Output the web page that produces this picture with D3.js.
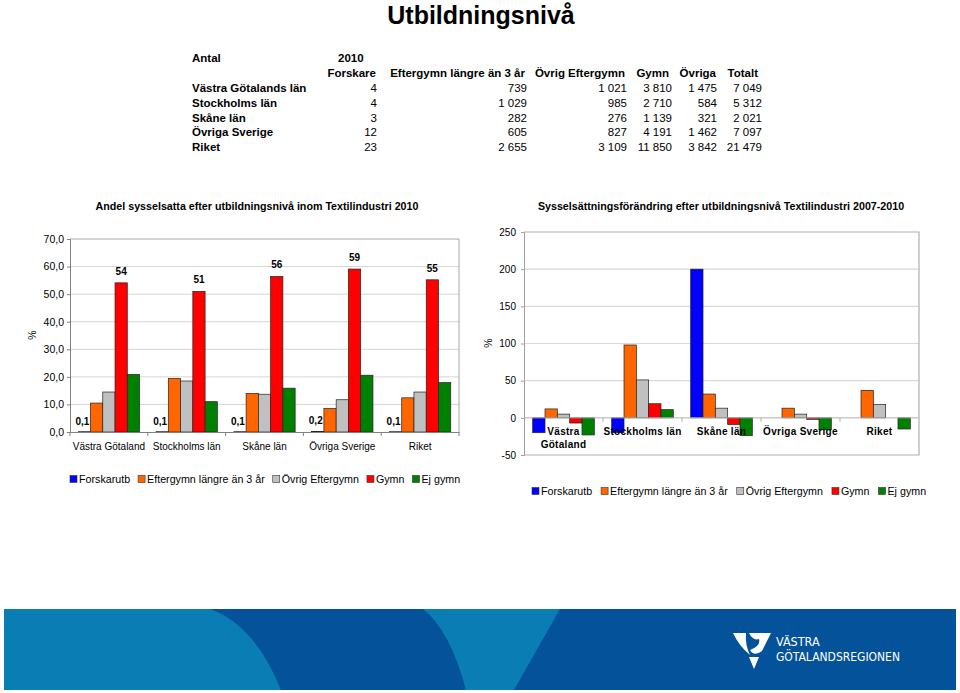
<!DOCTYPE html>
<html><head><meta charset="utf-8">
<script src="https://cdn.jsdelivr.net/npm/d3@7"></script>
<style>body{margin:0;background:#fff}svg{display:block;font-family:"Liberation Sans",Arial,Helvetica,sans-serif}</style>
</head><body><svg id="c" width="960" height="693"></svg>
<script>
// ---------- data ----------
const pageTitle = "Utbildningsnivå";
const tableCorner = "Antal";
const tableYear = "2010";
const tableColumns = ["Forskare","Eftergymn längre än 3 år","Övrig Eftergymn","Gymn","Övriga","Totalt"];
const tableRegions = ["Västra Götalands län","Stockholms län","Skåne län","Övriga Sverige","Riket"];
const tabForskare = [4,4,3,12,23];
const tabEftergymnLang = [739,1029,282,605,2655];
const tabOvrigEftergymn = [1021,985,276,827,3109];
const tabGymn = [3810,2710,1139,4191,11850];
const tabOvriga = [1475,584,321,1462,3842];
const tabTotalt = [7049,5312,2021,7097,21479];

const seriesNames = ["Forskarutb","Eftergymn längre än 3 år","Övrig Eftergymn","Gymn","Ej gymn"];
const seriesColors = ["#0000ff","#ff6600","#c0c0c0","#ff0000","#008000"];

const shareTitle = "Andel sysselsatta efter utbildningsnivå inom Textilindustri 2010";
const shareCategories = ["Västra Götaland","Stockholms län","Skåne län","Övriga Sverige","Riket"];
const shareForskarutb = [0.1,0.1,0.1,0.2,0.1];
const shareEftergymn = [10.5,19.4,14.0,8.5,12.4];
const shareOvrigEftergymn = [14.5,18.5,13.7,11.7,14.5];
const shareGymn = [54.1,51.0,56.4,59.1,55.2];
const shareEjGymn = [20.9,11.0,15.9,20.6,17.9];
const shareTicks = [0,10,20,30,40,50,60,70];

const changeTitle = "Sysselsättningsförändring efter utbildningsnivå Textilindustri 2007-2010";
const changeCategories = ["Västra Götaland","Stockholms län","Skåne län","Övriga Sverige","Riket"];
const changeCategoryLines = [["Västra","Götaland"],["Stockholms län"],["Skåne län"],["Övriga Sverige"],["Riket"]];
const changeForskarutb = [-20,-20,200,0,0];
const changeEftergymn = [12,98,32,13,37];
const changeOvrigEftergymn = [5,51,13,5,18];
const changeGymn = [-7,19,-9,-2,0];
const changeEjGymn = [-23,11,-24,-16,-15];
const changeTicks = [-50,0,50,100,150,200,250];

const logoLine1 = "VÄSTRA";
const logoLine2 = "GÖTALANDSREGIONEN";

// ---------- helpers ----------
const svg = d3.select("#c");
const loc = d3.formatLocale({decimal:",", thousands:"\u00a0", grouping:[3], currency:["",""]});
const fmtInt = loc.format(",d");
const fmt1 = loc.format(".1f");
const fmt0 = loc.format(".0f");

// ---------- title ----------
svg.append("text").attr("x",481).attr("y",24).attr("text-anchor","middle")
  .attr("font-size",25).attr("font-weight","bold").text(pageTitle);

// ---------- table ----------
const tableCols = [tabForskare,tabEftergymnLang,tabOvrigEftergymn,tabGymn,tabOvriga,tabTotalt];
const numRight = [377,527,627,672,717,762];
const headRight = [376,525,625,669,716,758];
const tFs = 11.5;
const tg = svg.append("g").attr("font-size",tFs);
tg.append("text").attr("x",192).attr("y",62).attr("font-weight","bold").text(tableCorner);
tg.append("text").attr("x",338).attr("y",62).attr("font-weight","bold").text(tableYear);
tableColumns.forEach((c,i)=>{
  tg.append("text").attr("x",headRight[i]).attr("y",77).attr("text-anchor","end").attr("font-weight","bold").text(c);
});
const rowY = d3.scalePoint().domain(tableRegions).range([92,151]);
tableRegions.forEach((r,ri)=>{
  tg.append("text").attr("x",192).attr("y",rowY(r)).attr("font-weight","bold").text(r);
  tableCols.forEach((col,ci)=>{
    tg.append("text").attr("x",numRight[ci]).attr("y",rowY(r)).attr("text-anchor","end").text(fmtInt(col[ri]));
  });
});

// ---------- generic chart pieces ----------
function legend(x0, yc, gap){
  const g = svg.append("g").attr("font-size",10.7);
  let x = x0;
  seriesNames.forEach((s,i)=>{
    g.append("rect").attr("x",x).attr("y",yc-3.5).attr("width",7).attr("height",7)
      .attr("fill",seriesColors[i]).attr("stroke","#333").attr("stroke-width",0.6);
    const t = g.append("text").attr("x",x+9).attr("y",yc+3.8).text(s);
    x += 9 + t.node().getComputedTextLength() + gap;
  });
}

// ---------- left chart ----------
(function(){
  const L=70,R=459;
  const x0 = d3.scaleBand().domain(shareCategories).range([L,R]);
  const bw = x0.bandwidth();
  const x1 = d3.scaleBand().domain(seriesNames).range([bw*0.106, bw*(1-0.106)]);
  const y = d3.scaleLinear().domain([0,70]).range([432,239]);
  const series = [shareForskarutb,shareEftergymn,shareOvrigEftergymn,shareGymn,shareEjGymn];

  svg.append("text").attr("x",257).attr("y",210).attr("text-anchor","middle")
    .attr("font-size",10.7).attr("font-weight","bold").text(shareTitle);

  const grid = svg.append("g");
  grid.selectAll("line").data(shareTicks.slice(1,-1)).join("line")
    .attr("x1",L).attr("x2",R).attr("y1",d=>y(d)).attr("y2",d=>y(d))
    .attr("stroke","#d4d4d4").attr("stroke-width",1);
  svg.append("path").attr("d",`M${L},${y(70)}H${R}V${y(0)}`).attr("fill","none").attr("stroke","#a6a6a6");

  const ax = svg.append("g").attr("transform",`translate(${L},0)`)
    .call(d3.axisLeft(y).tickValues(shareTicks).tickFormat(d=>fmt1(d)).tickSize(3).tickPadding(3));
  ax.select(".domain").attr("stroke","#808080");
  ax.selectAll(".tick line").attr("stroke","#808080");
  ax.selectAll("text").attr("font-size",10.5).attr("font-family",null).attr("fill","#000");

  const g = svg.append("g");
  series.forEach((vals,si)=>{
    g.selectAll(null).data(shareCategories).join("rect")
      .attr("x",c=>x0(c)+x1(seriesNames[si]))
      .attr("width",x1.bandwidth())
      .attr("y",(c,i)=>y(vals[i]))
      .attr("height",(c,i)=>y(0)-y(vals[i]))
      .attr("fill",seriesColors[si]).attr("stroke","#222").attr("stroke-width",0.7);
  });
  const bx = svg.append("g").attr("transform",`translate(0,${y(0)})`)
    .call(d3.axisBottom(x0).tickSize(0));
  bx.select(".domain").attr("stroke","#808080");
  bx.selectAll("text").attr("y",18).attr("dy",null).attr("font-size",10).attr("font-family",null).attr("fill","#000");
  svg.append("g").selectAll("line").data(shareCategories.concat([null])).join("line")
    .attr("x1",(c,i)=>c===null?R:x0(c)).attr("x2",(c,i)=>c===null?R:x0(c))
    .attr("y1",y(0)).attr("y2",y(0)+4).attr("stroke","#808080");

  const lg = svg.append("g").attr("font-size",10).attr("font-weight","bold").attr("text-anchor","middle");
  shareCategories.forEach((c,i)=>{
    lg.append("text").attr("x",x0(c)+x1(seriesNames[3])+x1.bandwidth()/2).attr("y",y(shareGymn[i])-8).text(fmt0(shareGymn[i]));
    lg.append("text").attr("x",x0(c)+x1(seriesNames[0])+x1.bandwidth()/2-2).attr("y",y(shareForskarutb[i])-7).text(fmt1(shareForskarutb[i]));
  });

  svg.append("text").attr("transform","translate(36,335) rotate(-90)").attr("text-anchor","middle")
    .attr("font-size",10.5).text("%");
  legend(70,479,8);
})();

// ---------- right chart ----------
(function(){
  const L=524,R=919;
  const x0 = d3.scaleBand().domain(changeCategories).range([L,R]);
  const bw = x0.bandwidth();
  const x1 = d3.scaleBand().domain(seriesNames).range([bw*0.11, bw*(1-0.11)]);
  const y = d3.scaleLinear().domain([-50,250]).range([455,232]);
  const series = [changeForskarutb,changeEftergymn,changeOvrigEftergymn,changeGymn,changeEjGymn];

  svg.append("text").attr("x",721).attr("y",210).attr("text-anchor","middle")
    .attr("font-size",10.7).attr("font-weight","bold").text(changeTitle);

  svg.append("g").selectAll("line").data(changeTicks.filter(t=>t>0&&t<250)).join("line")
    .attr("x1",L).attr("x2",R).attr("y1",d=>y(d)).attr("y2",d=>y(d))
    .attr("stroke","#d9d9d9").attr("stroke-width",1.2);
  svg.append("path").attr("d",`M${L},${y(250)}H${R}V${y(-50)}H${L}`).attr("fill","none").attr("stroke","#b0b0b0").attr("stroke-width",1.2);

  const ax = svg.append("g").attr("transform",`translate(${L},0)`)
    .call(d3.axisLeft(y).tickValues(changeTicks).tickFormat(d=>fmt0(d).replace("−","-")).tickSize(3).tickPadding(5));
  ax.select(".domain").attr("stroke","#a0a0a0");
  ax.selectAll(".tick line").attr("stroke","#a0a0a0");
  ax.selectAll("text").attr("font-size",10).attr("font-family",null).attr("fill","#000");

  const g = svg.append("g");
  series.forEach((vals,si)=>{
    g.selectAll(null).data(changeCategories.filter((c,i)=>vals[i]!==0)).join("rect")
      .attr("x",c=>x0(c)+x1(seriesNames[si]))
      .attr("width",x1.bandwidth())
      .attr("y",c=>Math.min(y(vals[changeCategories.indexOf(c)]),y(0)))
      .attr("height",c=>Math.abs(y(vals[changeCategories.indexOf(c)])-y(0)))
      .attr("fill",seriesColors[si]).attr("stroke","#222").attr("stroke-width",0.7);
  });
  svg.append("line").attr("x1",L).attr("x2",R).attr("y1",y(0)).attr("y2",y(0)).attr("stroke","#b0b0b0");
  svg.append("g").selectAll("line").data(changeCategories.slice(1)).join("line")
    .attr("x1",c=>x0(c)).attr("x2",c=>x0(c)).attr("y1",y(0)).attr("y2",y(0)+4).attr("stroke","#b0b0b0");
  const cg = svg.append("g").attr("font-size",10).attr("font-weight","bold").attr("text-anchor","middle");
  changeCategories.forEach((c,i)=>{
    changeCategoryLines[i].forEach((ln,li)=>{
      cg.append("text").attr("x",x0(c)+bw/2).attr("y",y(0)+17.5+li*12.8).attr("letter-spacing",0.3).text(ln);
    });
  });

  svg.append("text").attr("transform","translate(492,343) rotate(-90)").attr("text-anchor","middle")
    .attr("font-size",10.5).text("%");
  legend(532,491,9);
})();

// ---------- footer banner ----------
(function(){
  const b = svg.append("g");
  b.append("rect").attr("x",4).attr("y",609).attr("width",952).attr("height",81).attr("fill","#0a7db4");
  const p1 = d3.path(); p1.moveTo(210,609); p1.quadraticCurveTo(255,625,281,690); p1.lineTo(466,690); p1.quadraticCurveTo(450,630,423,609); p1.closePath();
  b.append("path").attr("d",p1.toString()).attr("fill","#03529a");
  const p2 = d3.path(); p2.moveTo(560,609); p2.lineTo(514,690); p2.lineTo(956,690); p2.lineTo(956,609); p2.closePath();
  b.append("path").attr("d",p2.toString()).attr("fill","#03529a");
  b.append("path").attr("d","M733,633 L746,633 Q745,645 750,655 Q739,646 733,633 Z").attr("fill","#fff");
  b.append("path").attr("d","M749,633 L771,633 L762,651 Q754,657 750,650 Q761,646 759,639 Q753,641 749,633 Z").attr("fill","#fff");
  b.append("path").attr("d","M749,657 L759,657 L754,669 Z").attr("fill","#fff");
  b.append("text").attr("x",776).attr("y",646).attr("fill","#fff").attr("font-size",12.5)
    .attr("font-family","'Liberation Sans Narrow','DejaVu Sans Condensed',sans-serif").text(logoLine1);
  b.append("text").attr("x",776).attr("y",661).attr("fill","#fff").attr("font-size",12.5)
    .attr("font-family","'Liberation Sans Narrow','DejaVu Sans Condensed',sans-serif")
    .attr("textLength",124).attr("lengthAdjust","spacingAndGlyphs").text(logoLine2);
})();
</script></body></html>
